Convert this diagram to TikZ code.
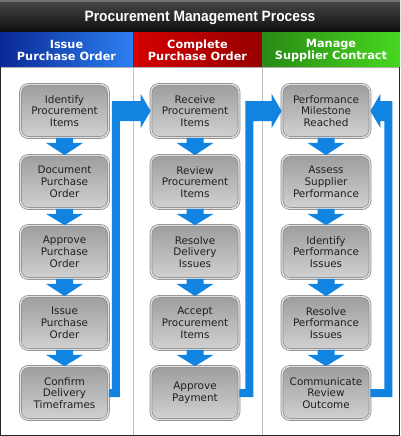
\documentclass[tikz,border=0pt]{standalone}
\usepackage{fontspec}
\usepackage{graphicx}
\setmainfont{DejaVu Sans}
\newfontfamily\titlefont{Liberation Sans}
\usetikzlibrary{calc}
\definecolor{flowblue}{HTML}{1084E0}
\definecolor{boxedge}{HTML}{8C8C8C}
\definecolor{boxtext}{HTML}{202020}
\newcommand\flowdown[2]{%
  \fill[flow] ($(#1.south)+(-8.5,0)$) -- ($(#1.south)+(8.5,0)$) -- ($(#1.south)+(8.5,5)$)
    -- ($(#1.south)+(18.5,5)$) -- (#2.north) -- ($(#1.south)+(-18.5,5)$)
    -- ($(#1.south)+(-8.5,5)$) -- cycle;}
\begin{document}
\begin{tikzpicture}[x=1pt,y=-1pt,
  flow/.style={fill=flowblue},
  stepbox/.style={draw=boxedge, double=black!12, double distance=1.4pt, line width=0.7pt,
    rounded corners=8pt, minimum width=88pt, minimum height=53pt, inner sep=1pt,
    top color=black!38, middle color=black!6, bottom color=black!18,
    align=center, text=boxtext, font=\fontsize{10.4}{11.8}\selectfont},
  headtext/.style={text=white, align=center, font=\bfseries\fontsize{11.3}{12}\selectfont}]
\useasboundingbox (0,0) rectangle (400,436);
% title bar
\shade[top color=black!72, bottom color=black!95] (0,0) rectangle (400,33);
\fill[black!55] (0,0) rectangle (400,2.5);
\node[text=white, font=\titlefont\bfseries\fontsize{15}{18}\selectfont] (title) at (200,17.5)
  {\scalebox{0.92}[1]{Procurement Management Process}};
% column headers
\shade[left color={rgb,255:red,10;green,40;blue,150}, right color={rgb,255:red,44;green,128;blue,240}] (0,33) rectangle (133,67);
\shade[left color={rgb,255:red,212;green,0;blue,0}, right color={rgb,255:red,150;green,0;blue,0}] (133,33) rectangle (262,67);
\shade[left color={rgb,255:red,40;green,138;blue,20}, right color={rgb,255:red,72;green,216;blue,32}] (262,33) rectangle (400,67);
\node[headtext] (h1) at (66.5,50.5) {Issue\\Purchase Order};
\node[headtext] (h2) at (197.5,50.5) {Complete\\Purchase Order};
\node[headtext] (h3) at (331,50.5) {Manage\\Supplier Contract};
% body
\fill[white] (0,67) rectangle (400,436);
\draw[black!25, line width=0.8pt] (133,67) -- (133,435);
\draw[black!25, line width=0.8pt] (262,67) -- (262,435);
\draw[black!30, line width=0.8pt] (0,67.5) -- (400,67.5);
\draw[black!85, line width=1.3pt] (0.65,67) -- (0.65,435.35) -- (399.35,435.35) -- (399.35,67);
% boxes column 1
\node[stepbox] (n11) at (64.5,111) {Identify\\Procurement\\Items};
\node[stepbox] (n12) at (64.5,182) {Document\\Purchase\\Order};
\node[stepbox] (n13) at (64.5,252) {Approve\\Purchase\\Order};
\node[stepbox] (n14) at (64.5,323) {Issue\\Purchase\\Order};
\node[stepbox] (n15) at (64.5,393) {Confirm\\Delivery\\Timeframes};
% column 2
\node[stepbox] (n21) at (195,111) {Receive\\Procurement\\Items};
\node[stepbox] (n22) at (195,182) {Review\\Procurement\\Items};
\node[stepbox] (n23) at (195,252) {Resolve\\Delivery\\Issues};
\node[stepbox] (n24) at (195,323) {Accept\\Procurement\\Items};
\node[stepbox] (n25) at (195,393) {Approve\\Payment};
% column 3
\node[stepbox] (n31) at (326,111) {Performance\\Milestone\\Reached};
\node[stepbox] (n32) at (326,182) {Assess\\Supplier\\Performance};
\node[stepbox] (n33) at (326,252) {Identify\\Performance\\Issues};
\node[stepbox] (n34) at (326,323) {Resolve\\Performance\\Issues};
\node[stepbox] (n35) at (326,393) {Communicate\\Review\\Outcome};
% small arrows
\flowdown{n11}{n12}\flowdown{n12}{n13}\flowdown{n13}{n14}\flowdown{n14}{n15}
\flowdown{n21}{n22}\flowdown{n22}{n23}\flowdown{n23}{n24}\flowdown{n24}{n25}
\flowdown{n31}{n32}\flowdown{n32}{n33}\flowdown{n33}{n34}\flowdown{n34}{n35}
% big connectors
\fill[flow] ($(n15.east)+(0,-4)$) -- ++(3,0) |- ($(n21.west)+(-10,-10)$) -- ++(0,-7)
  -- (n21.west) -- ++(-10,17) -- ++(0,-7) -| ($(n15.east)+(11,4)$) -- ($(n15.east)+(0,4)$) -- cycle;
\fill[flow] ($(n25.east)+(0,-4)$) -- ++(6,0) |- ($(n31.west)+(-10,-10)$) -- ++(0,-7)
  -- (n31.west) -- ++(-10,17) -- ++(0,-7) -| ($(n25.east)+(14,4)$) -- ($(n25.east)+(0,4)$) -- cycle;
\fill[flow] ($(n35.east)+(0,4)$) -- ++(22,0) |- ($(n31.east)+(10,-10)$) -- ++(0,-7)
  -- (n31.east) -- ++(10,17) -- ++(0,-7) -| ($(n35.east)+(14,-4)$) -- ($(n35.east)+(0,-4)$) -- cycle;
\end{tikzpicture}
\end{document}
